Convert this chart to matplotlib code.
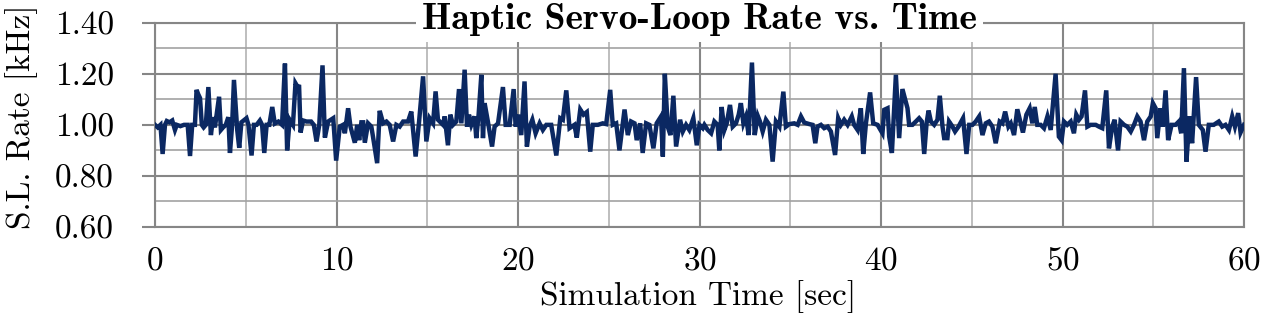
import matplotlib
matplotlib.use('Agg')
import matplotlib.pyplot as plt
from matplotlib.ticker import FormatStrFormatter, MultipleLocator

# LaTeX-like look (Computer Modern ships with matplotlib)
plt.rcParams['font.family'] = ['cmr10']
plt.rcParams['axes.formatter.use_mathtext'] = True

# Servo-loop rate (time [s], rate [kHz])
times = [
    0.0, 0.15, 0.3, 0.42, 0.55, 0.65, 0.8, 0.95, 1.1, 1.2, 1.4, 1.6, 1.8, 1.93,
    2.05, 2.2, 2.29, 2.38, 2.48, 2.58, 2.68, 2.8, 2.94, 3.08, 3.2, 3.3, 3.53,
    3.63, 3.75, 3.9, 4.04, 4.13, 4.25, 4.35, 4.53, 4.64, 4.76, 5.04, 5.15, 5.32,
    5.45, 5.6, 5.78, 5.9, 6.02, 6.15, 6.3, 6.46, 6.6, 6.8, 7.0, 7.16, 7.28, 7.42,
    7.6, 7.74, 7.83, 7.94, 8.02, 8.16, 8.35, 8.6, 8.75, 8.9, 9.05, 9.23, 9.36,
    9.54, 9.82, 9.98,
    10.18, 10.36, 10.46, 10.64, 10.77, 11.01, 11.14, 11.25, 11.37, 11.47, 11.56,
    11.74, 11.92, 12.01, 12.24, 12.38, 12.57, 12.75, 12.93, 13.12, 13.3, 13.48,
    13.67, 13.94, 14.12, 14.36, 14.55, 14.77, 14.95, 15.13, 15.32, 15.46, 15.59,
    15.87, 15.96, 16.14, 16.27, 16.42, 16.6, 16.75, 16.88, 17.06, 17.19, 17.3,
    17.43, 17.61, 17.7, 17.83, 17.98, 18.07, 18.16, 18.34, 18.57, 18.71, 18.9,
    19.17, 19.32, 19.54, 19.76, 19.87, 20.0,
    20.18, 20.36, 20.49, 20.64, 20.79, 20.97, 21.19, 21.37, 21.56, 21.83, 22.11,
    22.33, 22.47, 22.66, 22.84, 23.11, 23.24, 23.43, 23.61, 23.79, 23.98, 24.12,
    24.4, 24.67, 24.86, 25.08, 25.22, 25.41, 25.59, 25.87, 26.05, 26.23, 26.42,
    26.54, 26.73, 26.87, 27.06, 27.24, 27.46, 27.64, 27.88, 27.98, 28.09, 28.25,
    28.4, 28.56, 28.71, 28.93, 29.08, 29.26, 29.44, 29.66, 29.85,
    30.0, 30.18, 30.27, 30.45, 30.64, 30.82, 31.0, 31.09, 31.22, 31.37, 31.5,
    31.68, 31.83, 32.01, 32.16, 32.28, 32.42, 32.56, 32.71, 32.89, 33.04, 33.21,
    33.33, 33.48, 33.66, 33.85, 34.03, 34.21, 34.4, 34.62, 34.76, 34.95, 35.22,
    35.41, 35.59, 35.77, 36.05, 36.23, 36.38, 36.5, 36.69, 36.87, 37.06, 37.24,
    37.47, 37.64, 37.79, 37.97, 38.16, 38.39, 38.52, 38.71, 38.89, 39.02, 39.17,
    39.4, 39.57, 39.81,
    40.08, 40.18, 40.36, 40.45, 40.6, 40.82, 41.0, 41.18, 41.33, 41.46, 41.55,
    41.73, 41.92, 42.1, 42.25, 42.38, 42.51, 42.62, 42.75, 42.93, 43.11, 43.24,
    43.39, 43.48, 43.66, 43.75, 43.94, 44.08, 44.27, 44.52, 44.71, 44.86, 45.04,
    45.22, 45.41, 45.59, 45.77, 45.95, 46.14, 46.32, 46.54, 46.69, 46.84, 47.02,
    47.15, 47.33, 47.51, 47.7, 47.82, 48.01, 48.19, 48.34, 48.47, 48.61, 48.8,
    48.98, 49.17, 49.35, 49.62, 49.8, 49.95,
    50.08, 50.26, 50.45, 50.63, 50.76, 50.91, 51.05, 51.24, 51.37, 51.55, 51.83,
    52.01, 52.19, 52.41, 52.56, 52.74, 52.87, 53.06, 53.2, 53.39, 53.57, 53.76,
    53.94, 54.12, 54.3, 54.49, 54.67, 54.86, 54.98, 55.13, 55.22, 55.4, 55.53,
    55.68, 55.82, 56.01, 56.23, 56.41, 56.54, 56.69, 56.83, 57.0, 57.14, 57.36,
    57.51, 57.73, 57.88, 58.06, 58.33, 58.61, 58.8, 58.98, 59.17, 59.35, 59.5,
    59.68, 59.81, 60.0,
]
rates = [
    1.0, 0.99, 1.0, 0.886, 1.0, 1.015, 1.01, 1.017, 0.98, 1.0, 0.995, 1.0, 1.0, 0.878,
    1.0, 1.0, 1.137, 1.12, 1.105, 1.0, 0.99, 1.0, 1.148, 0.96, 1.03, 0.99, 1.11,
    0.98, 0.99, 1.0, 1.03, 0.89, 1.0, 1.176, 0.98, 0.91, 1.01, 1.026, 1.0, 0.88,
    1.0, 1.0, 1.017, 1.0, 0.89, 1.0, 1.0, 1.07, 1.005, 1.013, 1.0, 1.24, 0.9, 1.02,
    1.0, 1.163, 1.152, 1.15, 0.97, 1.017, 1.013, 1.013, 1.0, 0.935, 1.0, 1.233, 0.95,
    1.013, 1.026, 0.86,
    0.993, 1.0, 0.967, 1.065, 0.993, 0.93, 1.0, 0.94, 1.01, 1.01, 0.93,
    1.006, 0.993, 0.954, 0.85, 1.055, 1.006, 1.013, 1.0, 0.935, 1.0, 0.993,
    1.013, 1.013, 1.052, 0.876, 1.013, 1.19, 0.935, 1.026, 1.006, 1.131, 1.02,
    1.0, 1.033, 0.92, 1.04, 1.0, 1.013, 1.14, 1.006, 1.216, 0.993, 1.04,
    1.0, 1.033, 0.948, 1.04, 1.196, 0.948, 1.085, 1.013, 0.915, 0.993, 1.006,
    1.148, 1.0, 1.0, 1.14, 0.993, 1.04,
    0.96, 1.17, 0.915, 0.993, 1.02, 0.967, 1.006, 0.98, 1.0, 1.0, 0.88,
    1.026, 1.02, 1.135, 0.987, 1.0, 0.95, 1.06, 1.04, 1.05, 0.895, 1.0,
    1.0, 1.006, 1.003, 1.137, 1.0, 1.006, 0.9, 1.06, 0.96, 1.013, 1.006,
    0.94, 1.006, 0.89, 1.006, 1.0, 0.908, 1.006, 1.033, 0.876, 1.2, 0.993,
    0.96, 1.114, 0.915, 1.02, 0.974, 1.0, 0.98, 1.026, 0.92,
    1.0, 0.987, 1.0, 0.98, 0.967, 1.013, 1.0, 0.9, 1.07, 0.98, 1.006,
    1.078, 0.993, 1.006, 1.04, 1.085, 1.006, 1.033, 0.96, 1.244, 0.96, 1.035,
    1.013, 0.974, 1.02, 1.0, 0.856, 1.013, 0.993, 1.13, 0.993, 1.003, 1.006,
    1.0, 1.033, 1.009, 1.003, 1.0, 0.928, 0.993, 1.0, 0.987, 0.993, 0.974,
    0.882, 1.026, 1.0, 1.02, 1.0, 1.033, 1.0, 0.98, 1.065, 0.886, 1.006,
    1.127, 1.006, 1.0,
    0.967, 1.059, 1.065, 0.954, 0.89, 1.196, 0.948, 1.14, 1.1, 1.065, 1.0,
    1.0, 1.013, 1.026, 1.013, 0.886, 1.006, 1.056, 1.013, 1.0, 1.02, 1.114,
    0.993, 0.948, 0.948, 1.013, 0.993, 0.974, 0.993, 1.026, 0.886, 1.0, 1.0,
    1.013, 1.033, 0.96, 1.006, 1.013, 0.993, 0.928, 1.013, 1.006, 1.052, 0.993,
    1.006, 0.96, 1.061, 1.006, 0.97, 1.04, 1.065, 1.006, 1.07, 1.0, 1.0,
    0.987, 1.033, 0.98, 1.2, 0.954, 0.94,
    1.013, 1.0, 1.013, 0.967, 1.04, 1.02, 1.033, 1.135, 0.993, 1.0, 1.0,
    0.993, 0.987, 1.135, 0.908, 0.993, 1.02, 0.9, 1.013, 1.0, 0.993, 0.974,
    1.0, 1.033, 1.013, 0.94, 1.013, 1.033, 1.085, 1.065, 0.948, 1.065, 0.993,
    1.135, 0.94, 1.0, 1.0, 1.013, 0.967, 1.222, 0.856, 1.033, 0.928, 1.187,
    1.0, 0.98, 0.895, 1.0, 1.0, 1.013, 0.993, 1.0, 0.98, 1.033, 0.993,
    1.046, 0.97, 1.0,
]

x_ticks = [0, 10, 20, 30, 40, 50, 60]
y_ticks = [0.60, 0.80, 1.00, 1.20, 1.40]

major_grey = '#868686'
minor_grey = '#b3b3b3'

fig = plt.figure(figsize=(12.63, 3.23), dpi=100)
ax = fig.add_axes([155 / 1263, 96 / 323, 1089 / 1263, 204.3 / 323])

ax.plot(times, rates, color='#0b2862', linewidth=3.2, solid_joinstyle='miter', zorder=3)

ax.set_xlim(0, 60)
ax.set_ylim(0.6, 1.4)
ax.set_xticks(x_ticks)
ax.set_yticks(y_ticks)
ax.xaxis.set_minor_locator(MultipleLocator(5))
ax.yaxis.set_minor_locator(MultipleLocator(0.1))
ax.yaxis.set_major_formatter(FormatStrFormatter('%.2f'))

ax.grid(which='major', color=major_grey, linewidth=1.5)
ax.grid(which='minor', axis='x', color=minor_grey, linewidth=1.2)
ax.grid(which='minor', axis='y', color='#a2a2a2', linewidth=1.2)
ax.set_axisbelow(True)

for side in ['left', 'right', 'top', 'bottom']:
    ax.spines[side].set_color(major_grey)
    ax.spines[side].set_linewidth(1.5)

ax.tick_params(axis='y', which='major', direction='out', length=9.5, width=1.5,
               color=major_grey, pad=20, labelsize=24)
ax.tick_params(axis='x', which='major', length=0, pad=14, labelsize=24)
ax.tick_params(which='minor', length=0)

# title sits on the top gridline, white box hides the line behind it
ax.text(0.5, 0.968, 'Haptic Servo-Loop Rate vs. Time', transform=ax.transAxes,
        ha='center', va='baseline', fontsize=27, family='cmb10', zorder=5,
        bbox=dict(facecolor='white', edgecolor='none', pad=4))

fig.text(698 / 1263, 1 - 297 / 323, 'Simulation Time [sec]', ha='center', va='center', fontsize=24)
fig.text(22 / 1263, 1 - 117 / 323, 'S.L. Rate [kHz]', ha='center', va='center',
         rotation=90, fontsize=24)

fig.savefig('out.png', dpi=100)
